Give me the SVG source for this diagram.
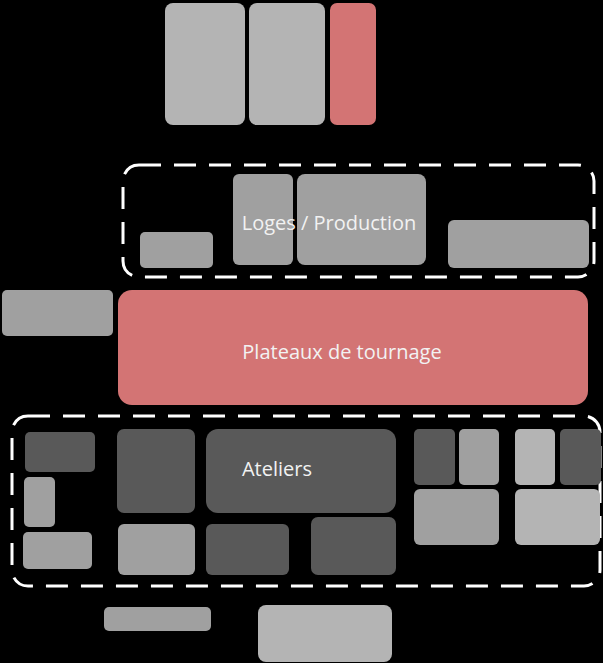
<svg xmlns="http://www.w3.org/2000/svg" width="603" height="663" viewBox="0 0 603 663">
<style>
.l{fill:#b4b4b4}
.m{fill:#a0a0a0}
.d{fill:#595959}
.r{fill:#d37474}
.zone{fill:none;stroke:#ffffff;stroke-width:3;stroke-dasharray:22 13}
.t{font-family:"Open Sans","Noto Sans",sans-serif;font-size:20px;fill:#f2f2f2;dominant-baseline:central}
</style>
<rect width="603" height="663" fill="#000"/>
<g id="zones">
<rect class="zone" x="123" y="165" width="471" height="112" rx="16"/>
<rect class="zone" x="12" y="416" width="588" height="170" rx="16"/>
</g>
<g id="top">
<rect id="n1" class="l" x="165" y="3" width="80" height="122" rx="8"/>
<rect id="n2" class="l" x="249" y="3" width="76" height="122" rx="8"/>
<rect id="n3" class="r" x="330" y="3" width="46" height="122" rx="7"/>
</g>
<g id="loges">
<rect class="m" x="140" y="232" width="73" height="36" rx="5"/>
<rect class="m" x="233" y="174" width="60" height="91" rx="6"/>
<rect class="m" x="297" y="174" width="129" height="91" rx="8"/>
<rect class="m" x="448" y="220" width="141" height="48" rx="6"/>
<text class="t" x="329" y="222" text-anchor="middle">Loges / Production</text>
</g>
<g id="left">
<rect class="m" x="2" y="290" width="111" height="46" rx="5"/>
</g>
<g id="plateaux">
<rect class="r" x="118" y="290" width="470" height="115" rx="14"/>
<text class="t" x="342" y="351" text-anchor="middle">Plateaux de tournage</text>
</g>
<g id="ateliers">
<rect class="d" x="25" y="432" width="70" height="40" rx="5"/>
<rect class="m" x="24" y="477" width="31" height="50" rx="5"/>
<rect class="m" x="23" y="532" width="69" height="37" rx="5"/>
<rect class="d" x="117" y="429" width="78" height="84" rx="7"/>
<rect class="d" x="206" y="429" width="190" height="84" rx="12"/>
<rect class="m" x="118" y="524" width="77" height="51" rx="6"/>
<rect class="d" x="206" y="524" width="83" height="51" rx="6"/>
<rect class="d" x="311" y="517" width="85" height="58" rx="7"/>
<rect class="d" x="414" y="429" width="41" height="56" rx="5"/>
<rect class="m" x="459" y="429" width="40" height="56" rx="5"/>
<rect class="m" x="414" y="489" width="85" height="56" rx="6"/>
<rect class="l" x="515" y="429" width="40" height="56" rx="5"/>
<rect class="d" x="560" y="429" width="41" height="56" rx="5"/>
<rect class="l" x="515" y="489" width="85" height="56" rx="6"/>
<text class="t" x="277" y="468" text-anchor="middle">Ateliers</text>
</g>
<g id="bottom">
<rect class="m" x="104" y="607" width="107" height="24" rx="5"/>
<rect class="l" x="258" y="605" width="134" height="57" rx="8"/>
</g>
</svg>
